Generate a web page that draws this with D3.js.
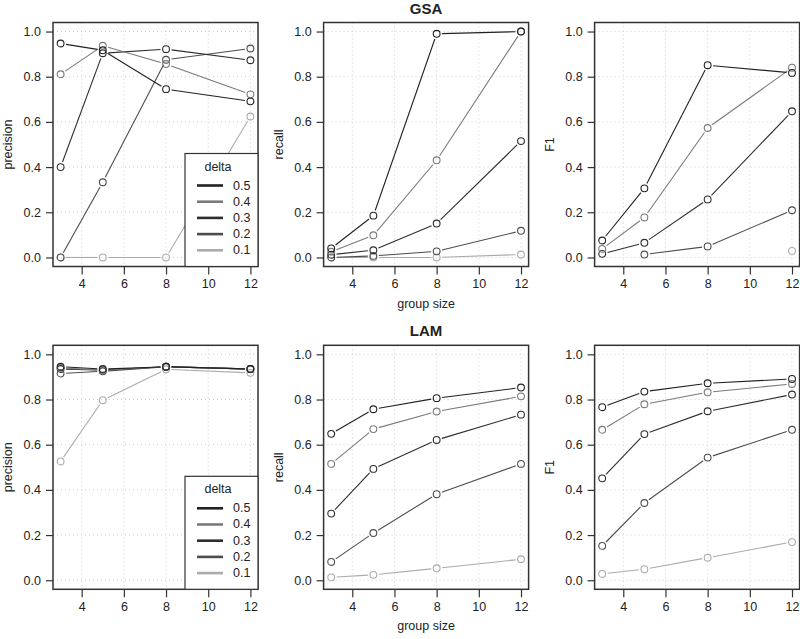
<!DOCTYPE html>
<html>
<head>
<meta charset="utf-8">
<script src="https://cdn.jsdelivr.net/npm/d3@7"></script>
<style>
  html, body { margin: 0; padding: 0; background: #fff; }
  svg { display: block; }
  text { font-family: "Liberation Sans", Arial, Helvetica, sans-serif; fill: #222; }
</style>
</head>
<body>
<svg id="chart" width="800" height="639"></svg>
<script>
// ---------------- data ----------------
const groupSize = [3, 5, 8, 12];
const deltas = ["0.5", "0.4", "0.3", "0.2", "0.1"];
const xTicks = [4, 6, 8, 10, 12];
const yTicks = [0, 0.2, 0.4, 0.6, 0.8, 1.0];

// rows follow deltas order (0.5 ... 0.1); null = not defined
const gsaPrecision = [
  [0.947, 0.917, 0.745, 0.691],
  [0.811, 0.937, 0.856, 0.722],
  [0.400, 0.904, 0.922, 0.873],
  [0.000, 0.333, 0.875, 0.925],
  [0.000, 0.000, 0.000, 0.624]
];
const gsaRecall = [
  [0.040, 0.185, 0.990, 1.000],
  [0.025, 0.098, 0.430, 1.000],
  [0.012, 0.032, 0.150, 0.515],
  [0.000, 0.007, 0.027, 0.118],
  [0.000, 0.000, 0.000, 0.013]
];
const gsaF1 = [
  [0.075, 0.306, 0.851, 0.817],
  [0.038, 0.177, 0.573, 0.840],
  [0.016, 0.065, 0.257, 0.647],
  [null, 0.013, 0.049, 0.209],
  [null, null, null, 0.029]
];
const lamPrecision = [
  [0.945, 0.935, 0.945, 0.935],
  [0.940, 0.930, 0.945, 0.935],
  [0.935, 0.930, 0.945, 0.935],
  [0.915, 0.925, 0.945, 0.935],
  [0.526, 0.797, 0.934, 0.918]
];
const lamRecall = [
  [0.648, 0.757, 0.806, 0.853],
  [0.515, 0.669, 0.747, 0.814],
  [0.295, 0.493, 0.621, 0.733],
  [0.081, 0.209, 0.381, 0.515],
  [0.013, 0.024, 0.053, 0.093]
];
const lamF1 = [
  [0.766, 0.835, 0.872, 0.891],
  [0.666, 0.779, 0.832, 0.869],
  [0.451, 0.647, 0.748, 0.822],
  [0.152, 0.342, 0.543, 0.666],
  [0.028, 0.049, 0.100, 0.169]
];

// ---------------- styles / layout ----------------
const seriesColors = ["#222222", "#7a7a7a", "#2e2e2e", "#4d4d4d", "#ababab"];
const colLeft = [53, 323.6, 594.6];
const rowTop = [22.5, 345.3];
const plotW = 205, plotH = 244;

const panels = [
  {row: 0, col: 0, data: gsaPrecision, ylab: "precision", legend: true},
  {row: 0, col: 1, data: gsaRecall, ylab: "recall", title: "GSA", xlab: "group size"},
  {row: 0, col: 2, data: gsaF1, ylab: "F1"},
  {row: 1, col: 0, data: lamPrecision, ylab: "precision", legend: true},
  {row: 1, col: 1, data: lamRecall, ylab: "recall", title: "LAM", xlab: "group size"},
  {row: 1, col: 2, data: lamF1, ylab: "F1"}
];

const svg = d3.select("#chart");

panels.forEach(p => {
  const x0 = colLeft[p.col], y0 = rowTop[p.row];
  const g = svg.append("g").attr("transform", `translate(${x0},${y0})`);
  const x = d3.scaleLinear().domain([2.64, 12.36]).range([0, plotW]);
  const y = d3.scaleLinear().domain([-0.04, 1.04]).range([plotH, 0]);

  // grid
  g.append("g").selectAll("line").data(xTicks).join("line")
    .attr("x1", d => x(d)).attr("x2", d => x(d)).attr("y1", 0).attr("y2", plotH)
    .attr("stroke", "#cfcfcf").attr("stroke-width", 1).attr("stroke-dasharray", "1,3");
  g.append("g").selectAll("line").data(yTicks).join("line")
    .attr("y1", d => y(d)).attr("y2", d => y(d)).attr("x1", 0).attr("x2", plotW)
    .attr("stroke", "#cfcfcf").attr("stroke-width", 1).attr("stroke-dasharray", "1,3");

  // axes
  const xAxis = d3.axisBottom(x).tickValues(xTicks).tickSize(8).tickPadding(5).tickFormat(d3.format("d"));
  const yAxis = d3.axisLeft(y).tickValues(yTicks).tickSize(7).tickPadding(5).tickFormat(d3.format(".1f"));
  const gx = g.append("g").attr("transform", `translate(0,${plotH})`).call(xAxis);
  const gy = g.append("g").call(yAxis);
  [gx, gy].forEach(a => {
    a.select(".domain").remove();
    a.selectAll(".tick line").attr("stroke", "#333").attr("stroke-width", 1.2);
    a.selectAll(".tick text").attr("font-size", 12.5).attr("fill", "#222")
      .style("font-family", '"Liberation Sans", Arial, sans-serif');
  });

  // series
  const gap = 5.5;
  const seriesOrder = d3.range(deltas.length).reverse();
  seriesOrder.forEach(si => {
    const vals = p.data[si];
    const col = seriesColors[si];
    const pts = groupSize.map((gs, i) => vals[i] == null ? null : [x(gs), y(vals[i])]);
    for (let i = 0; i < pts.length - 1; i++) {
      const a = pts[i], b = pts[i + 1];
      if (!a || !b) continue;
      const dx = b[0] - a[0], dy = b[1] - a[1];
      const len = Math.hypot(dx, dy);
      if (len <= 2 * gap) continue;
      const ux = dx / len, uy = dy / len;
      g.append("line")
        .attr("x1", a[0] + ux * gap).attr("y1", a[1] + uy * gap)
        .attr("x2", b[0] - ux * gap).attr("y2", b[1] - uy * gap)
        .attr("stroke", col).attr("stroke-width", 1.1);
    }
    g.append("g").selectAll("circle").data(pts.filter(d => d)).join("circle")
      .attr("cx", d => d[0]).attr("cy", d => d[1]).attr("r", 3.4)
      .attr("fill", "none").attr("stroke", col).attr("stroke-width", 1.1);
  });

  // box
  g.append("rect").attr("x", 0).attr("y", 0).attr("width", plotW).attr("height", plotH)
    .attr("fill", "none").attr("stroke", "#333").attr("stroke-width", 1.5);

  // y label
  g.append("text")
    .attr("transform", `translate(${-45},${plotH / 2}) rotate(-90)`)
    .attr("text-anchor", "middle").attr("dominant-baseline", "central")
    .attr("font-size", 12.5).text(p.ylab);

  if (p.title) {
    g.append("text").attr("x", plotW / 2).attr("y", -9)
      .attr("text-anchor", "middle").attr("font-size", 15).attr("font-weight", "bold")
      .text(p.title);
  }
  if (p.xlab) {
    g.append("text").attr("x", plotW / 2).attr("y", plotH + 41)
      .attr("text-anchor", "middle").attr("font-size", 12.5).text(p.xlab);
  }

  if (p.legend) {
    const lw = 73, lh = 113;
    const lg = g.append("g").attr("transform", `translate(${plotW - lw},${plotH - lh})`);
    lg.append("rect").attr("width", lw).attr("height", lh)
      .attr("fill", "#fff").attr("stroke", "#333").attr("stroke-width", 1.2);
    lg.append("text").attr("x", 33).attr("y", 13).attr("dominant-baseline", "central")
      .attr("text-anchor", "middle").attr("font-size", 12.5).text("delta");
    deltas.forEach((dl, i) => {
      const yy = 32 + 16.2 * i;
      lg.append("line").attr("x1", 12).attr("x2", 38).attr("y1", yy).attr("y2", yy)
        .attr("stroke", seriesColors[i]).attr("stroke-width", 2.6);
      lg.append("text").attr("x", 48).attr("y", yy).attr("dominant-baseline", "central")
        .attr("font-size", 12.5).text(dl);
    });
  }
});
</script>
</body>
</html>
